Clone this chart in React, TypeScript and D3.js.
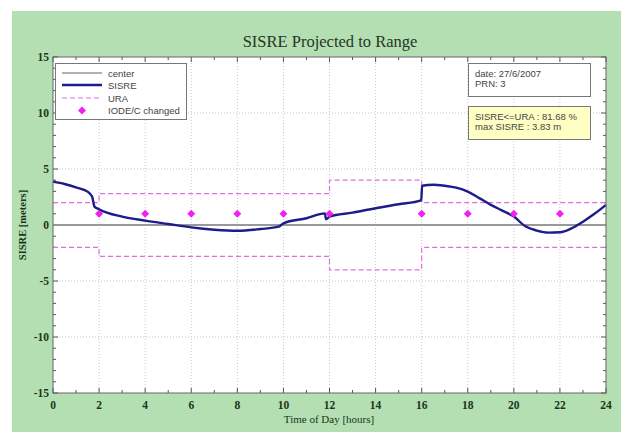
import React from 'react';
import * as d3 from 'd3';

// SISRE curve (hours, meters)
const sisreHours = [0, 0.5, 1, 1.5, 1.7, 1.8, 2, 3, 4, 5, 6, 7, 8, 9, 9.8, 10, 11, 11.8, 11.85, 12, 13, 14, 15, 15.98, 16.02, 16.5, 17, 17.5, 18, 18.5, 19, 19.5, 20, 20.5, 21, 21.5, 22, 22.5, 23, 23.5, 24];
const sisreValues = [3.87, 3.66, 3.36, 2.98, 2.53, 1.64, 1.4, 0.75, 0.39, 0.09, -0.21, -0.42, -0.52, -0.36, -0.15, 0.15, 0.6, 1.04, 0.5, 0.74, 1.1, 1.5, 1.85, 2.2, 3.5, 3.6, 3.5, 3.33, 2.98, 2.4, 1.8, 1.28, 0.75, -0.12, -0.5, -0.68, -0.65, -0.3, 0.3, 1.0, 1.8];

// URA steps (hour boundaries and level)
const uraStarts = [0, 2, 12, 16];
const uraEnds = [2, 12, 16, 24];
const uraLevels = [2.0, 2.8, 4.0, 2.0];

// IODE/C change markers
const iodeHours = [2, 4, 6, 8, 10, 12, 16, 18, 20, 22];
const iodeValue = 1;

const xTicks = d3.range(0, 25, 2);
const yTicks = [-15, -10, -5, 0, 5, 10, 15];

const legendLabels = ['center', 'SISRE', 'URA', 'IODE/C changed'];
const infoLines = ['date: 27/6/2007', 'PRN: 3'];
const statLines = ['SISRE<=URA : 81.68 %', 'max SISRE : 3.83 m'];

const W = 621;
const H = 432;
const plot = { left: 53, right: 606, top: 57, bottom: 393 };

const App = () => {
  const x = d3.scaleLinear().domain([0, 24]).range([plot.left, plot.right]);
  const y = d3.scaleLinear().domain([-15, 15]).range([plot.bottom, plot.top]);

  const line = d3.line<number>()
    .x((_, i) => x(sisreHours[i]))
    .y(d => y(d))
    .curve(d3.curveMonotoneX);

  const uraPath = (sign: number) => {
    let p = '';
    uraLevels.forEach((lv, i) => {
      const yy = y(sign * lv);
      p += (i === 0 ? 'M' : 'L') + x(uraStarts[i]) + ',' + yy + 'L' + x(uraEnds[i]) + ',' + yy;
    });
    return p;
  };

  const minorX = d3.range(0, 25, 1);
  const minorY = d3.range(-15, 16, 1);
  const tickColor = '#555';
  const labelColor = '#1a361a';
  const serif = '"Liberation Serif", "DejaVu Serif", serif';
  const sans = '"Liberation Sans", Arial, sans-serif';

  const diamond = (cx: number, cy: number, r: number) =>
    `M${cx},${cy - r}L${cx + r},${cy}L${cx},${cy + r}L${cx - r},${cy}Z`;

  const legY = [73, 85, 98, 110.5];

  return (
    <svg width={W} height={H} style={{ position: 'absolute', left: 0, top: 0 }}>
      <rect x={0} y={0} width={W} height={H} fill="#fff" />
      <rect x={12} y={11} width={W - 12} height={H - 11} fill="#b3dfb3" />
      <text x={330} y={47} textAnchor="middle" fontFamily={serif} fontSize={16.5} fill="#263626">
        SISRE Projected to Range
      </text>

      <rect x={plot.left} y={plot.top} width={plot.right - plot.left} height={plot.bottom - plot.top} fill="#fff" />

      {/* grid */}
      {xTicks.slice(1, -1).map(t => (
        <line key={'gx' + t} x1={x(t)} x2={x(t)} y1={plot.top} y2={plot.bottom} stroke="#c8c8c8" strokeDasharray="1,2" />
      ))}
      {yTicks.slice(1, -1).map(t => (
        <line key={'gy' + t} x1={plot.left} x2={plot.right} y1={y(t)} y2={y(t)} stroke="#c8c8c8" strokeDasharray="1,2" />
      ))}

      {/* minor and major ticks, inward on all sides */}
      {minorX.map(t => {
        const len = t % 2 === 0 ? 5 : 3;
        return (
          <g key={'tx' + t}>
            <line x1={x(t)} x2={x(t)} y1={plot.bottom} y2={plot.bottom - len} stroke={tickColor} />
            <line x1={x(t)} x2={x(t)} y1={plot.top} y2={plot.top + len} stroke={tickColor} />
          </g>
        );
      })}
      {minorY.map(t => {
        const len = t % 5 === 0 ? 5 : 3;
        return (
          <g key={'ty' + t}>
            <line x1={plot.left} x2={plot.left + len} y1={y(t)} y2={y(t)} stroke={tickColor} />
            <line x1={plot.right} x2={plot.right - len} y1={y(t)} y2={y(t)} stroke={tickColor} />
          </g>
        );
      })}

      {/* center */}
      <line x1={plot.left} x2={plot.right} y1={y(0)} y2={y(0)} stroke="#999" strokeWidth={2} />

      {/* URA */}
      <path d={uraPath(1)} fill="none" stroke="#e070e0" strokeWidth={1.2} strokeDasharray="5,3" />
      <path d={uraPath(-1)} fill="none" stroke="#e070e0" strokeWidth={1.2} strokeDasharray="5,3" />

      {/* SISRE */}
      <path d={line(sisreValues) || ''} fill="none" stroke="#1c1c8a" strokeWidth={2.4} />

      {/* IODE changes */}
      {iodeHours.map(h => (
        <path key={'d' + h} d={diamond(x(h), y(iodeValue), 4)} fill="#f020f0" />
      ))}

      <rect x={plot.left} y={plot.top} width={plot.right - plot.left} height={plot.bottom - plot.top} fill="none" stroke="#666" strokeWidth={1} />

      {/* axis labels */}
      {xTicks.map(t => (
        <text key={'lx' + t} x={x(t)} y={409} textAnchor="middle" fontFamily={serif} fontWeight="bold" fontSize={11.5} fill={labelColor}>
          {t}
        </text>
      ))}
      {yTicks.map(t => (
        <text key={'ly' + t} x={plot.left - 4} y={y(t) + 4} textAnchor="end" fontFamily={serif} fontWeight="bold" fontSize={11.5} fill={labelColor}>
          {t}
        </text>
      ))}
      <text x={329} y={423} textAnchor="middle" fontFamily={serif} fontSize={11} fill={labelColor}>
        Time of Day [hours]
      </text>
      <text transform={`translate(26,${y(0)}) rotate(-90)`} textAnchor="middle" fontFamily={serif} fontWeight="bold" fontSize={10.5} fill={labelColor}>
        SISRE [meters]
      </text>

      {/* legend */}
      <rect x={55.5} y={63.5} width={131} height={56} fill="#fff" stroke="#777" />
      <line x1={62} x2={102} y1={legY[0]} y2={legY[0]} stroke="#999" strokeWidth={1.5} />
      <line x1={62} x2={102} y1={legY[1]} y2={legY[1]} stroke="#1c1c8a" strokeWidth={2.4} />
      <line x1={62} x2={102} y1={legY[2]} y2={legY[2]} stroke="#e070e0" strokeWidth={1.2} strokeDasharray="5,3" />
      <path d={diamond(82, legY[3], 4)} fill="#f020f0" />
      {legendLabels.map((l, i) => (
        <text key={l} x={108} y={legY[i] + 3.5} fontFamily={sans} fontSize={9.5} fill="#444">
          {l}
        </text>
      ))}

      {/* info boxes */}
      <rect x={468.5} y={63.5} width={122} height={33} fill="#fff" stroke="#777" />
      {infoLines.map((l, i) => (
        <text key={l} x={475} y={77 + i * 10} fontFamily={sans} fontSize={9.5} fill="#444">
          {l}
        </text>
      ))}
      <rect x={468.5} y={106.5} width={122} height={33} fill="#ffffc4" stroke="#777" />
      {statLines.map((l, i) => (
        <text key={l} x={475} y={120 + i * 10} fontFamily={sans} fontSize={9.5} fill="#444">
          {l}
        </text>
      ))}
    </svg>
  );
};

export default App;
